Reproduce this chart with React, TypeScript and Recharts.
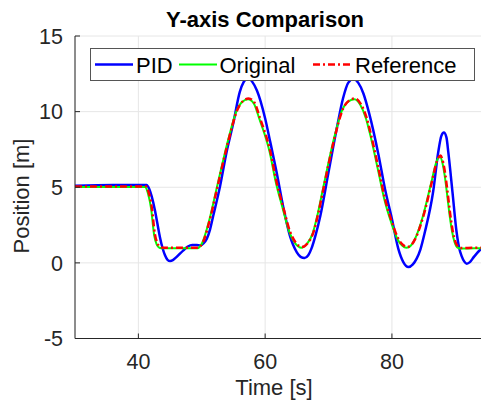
import { LineChart, Line, XAxis, YAxis, CartesianGrid } from "recharts";

// tick values
const X_TICKS = [40, 60, 80];
const Y_TICKS = [-5, 0, 5, 10, 15];

// Reference trajectory
const REF_T = [30, 35, 41.2, 41.6, 42.1, 42.6, 43.0, 43.4, 44.0, 46, 49.4, 50.2, 51.3, 52.3, 53.4, 54.4, 55.5, 56.5, 57.4, 58.3, 59.2, 60.8, 61.8, 62.9, 63.9, 64.9, 65.8, 66.7, 67.6, 68.4, 69.2, 70.8, 72.3, 73.3, 74.2, 75.1, 76.0, 76.8, 77.9, 78.9, 80.0, 81.0, 81.7, 82.4, 83.1, 83.7, 85.0, 86.3, 87.1, 87.65, 88.1, 88.4, 88.8, 89.2, 89.6, 90.0, 90.5, 91.0, 93, 95];
const REF_V = [5.05, 5.05, 5.05, 4.7, 3.7, 1.9, 1.3, 1.05, 1.0, 1.0, 1.0, 1.38, 2.9, 4.7, 6.7, 8.4, 10.0, 10.7, 10.87, 10.6, 9.55, 7.4, 5.35, 3.6, 2.1, 1.3, 1.05, 1.3, 2.0, 3.3, 4.9, 8.0, 10.2, 10.75, 10.87, 10.5, 9.6, 8.3, 6.2, 4.25, 2.7, 1.6, 1.2, 1.05, 1.2, 1.6, 3.15, 5.35, 6.7, 7.1, 6.6, 5.9, 4.6, 3.2, 2.1, 1.4, 1.05, 0.98, 1.0, 1.0];

// Original trajectory (almost on top of the reference)
const ORIG_T = [30, 35, 41.1, 41.5, 42.0, 42.5, 42.9, 43.3, 43.9, 46, 49.3, 50.1, 51.2, 52.2, 53.3, 54.3, 55.4, 56.4, 57.3, 58.2, 59.1, 60.7, 61.7, 62.8, 63.8, 64.8, 65.7, 66.6, 67.5, 68.3, 69.1, 70.7, 72.2, 73.2, 74.1, 75.0, 75.9, 76.7, 77.8, 78.8, 79.9, 80.9, 81.6, 82.3, 83.0, 83.6, 84.9, 86.2, 87.0, 87.55, 88.0, 88.3, 88.7, 89.1, 89.5, 89.9, 90.4, 90.9, 93, 95];
const ORIG_V = [5.02, 5.02, 5.02, 4.6, 3.6, 1.8, 1.2, 1.0, 0.96, 0.96, 0.96, 1.35, 2.85, 4.65, 6.65, 8.35, 9.95, 10.65, 10.82, 10.55, 9.5, 7.35, 5.3, 3.55, 2.05, 1.25, 1.0, 1.25, 1.95, 3.25, 4.85, 7.95, 10.15, 10.7, 10.82, 10.45, 9.55, 8.25, 6.15, 4.2, 2.65, 1.55, 1.15, 1.0, 1.15, 1.55, 3.1, 5.3, 6.65, 7.05, 6.55, 5.85, 4.55, 3.15, 2.05, 1.35, 1.0, 0.95, 0.96, 0.96];

// PID trajectory
const PID_T = [30, 36, 41.3, 41.7, 42.1, 42.6, 43.0, 43.4, 43.8, 44.2, 44.6, 45.0, 45.5, 46.0, 47.1, 47.8, 48.5, 49.2, 49.8, 50.3, 50.8, 51.3, 51.8, 52.9, 53.9, 55.0, 56.0, 56.6, 57.3, 58.0, 58.7, 60.0, 60.8, 61.8, 62.9, 63.9, 65.0, 65.6, 66.2, 66.8, 67.3, 68.0, 68.7, 70.0, 71.3, 72.3, 73.1, 73.9, 74.7, 75.5, 76.4, 77.9, 78.9, 80.0, 81.0, 81.8, 82.6, 83.3, 83.9, 84.5, 85.2, 86.5, 87.3, 87.8, 88.2, 88.6, 88.9, 89.55, 90.2, 90.6, 91.0, 91.4, 91.8, 92.3, 92.9, 94.1, 95];
const PID_V = [5.1, 5.15, 5.15, 4.9, 4.4, 3.5, 2.6, 1.7, 1.0, 0.5, 0.2, 0.12, 0.2, 0.38, 0.83, 1.08, 1.18, 1.18, 1.15, 1.3, 1.6, 2.2, 3.1, 5.1, 7.3, 9.3, 11.3, 11.95, 12.2, 11.95, 11.4, 9.55, 8.0, 6.0, 3.6, 1.8, 0.7, 0.4, 0.32, 0.5, 0.94, 1.9, 3.1, 6.0, 8.9, 10.9, 11.9, 12.15, 11.9, 11.2, 9.9, 7.1, 4.9, 2.9, 0.94, 0.05, -0.28, -0.1, 0.28, 0.9, 2.04, 4.7, 7.3, 8.4, 8.62, 8.3, 7.3, 4.7, 2.04, 1.0, 0.45, 0.1, -0.05, 0.05, 0.38, 0.94, 1.2];

const toPoints = (ts: number[], vs: number[]) => ts.map((t, i) => ({ t, v: vs[i] }));

const FONT = '"Liberation Sans", Arial, Helvetica, sans-serif';
const AXIS_COLOR = "#262626";
const TICK_STYLE = { fontSize: 21.5, fill: AXIS_COLOR, fontFamily: FONT };

export default function App() {
  const pid = toPoints(PID_T, PID_V);
  const orig = toPoints(ORIG_T, ORIG_V);
  const ref = toPoints(REF_T, REF_V);

  return (
    <div style={{ position: "absolute", left: 0, top: 0, width: 481, height: 403, overflow: "hidden", background: "#fff", fontFamily: FONT }}>
      <LineChart width={487} height={403} margin={{ top: 36, right: 0, bottom: 34.5, left: 0 }}>
        <CartesianGrid stroke="#e6e6e6" strokeWidth={1} />
        <XAxis
          dataKey="t"
          type="number"
          domain={[30, 95]}
          ticks={X_TICKS}
          allowDataOverflow
          height={30}
          tick={TICK_STYLE}
          tickSize={-5}
          tickMargin={20}
          stroke={AXIS_COLOR}
          axisLine={{ stroke: AXIS_COLOR }}
          tickLine={{ stroke: AXIS_COLOR }}
        />
        <XAxis
          xAxisId="top"
          orientation="top"
          dataKey="t"
          type="number"
          domain={[30, 95]}
          ticks={X_TICKS}
          allowDataOverflow
          height={0}
          tickFormatter={() => ""}
          tickSize={-5}
          axisLine={{ stroke: AXIS_COLOR }}
          tickLine={{ stroke: AXIS_COLOR }}
        />
        <YAxis
          type="number"
          domain={[-5, 15]}
          ticks={Y_TICKS}
          allowDataOverflow
          width={75}
          tick={TICK_STYLE}
          tickSize={-5}
          tickMargin={17}
          axisLine={{ stroke: AXIS_COLOR }}
          tickLine={{ stroke: AXIS_COLOR }}
        />
        <Line data={pid} dataKey="v" type="monotone" stroke="#0000ff" strokeWidth={2.5} dot={false} isAnimationActive={false} />
        <Line data={orig} dataKey="v" type="monotone" stroke="#00ff00" strokeWidth={2} dot={false} isAnimationActive={false} />
        <Line data={ref} dataKey="v" type="monotone" stroke="#ff0000" strokeWidth={2.5} strokeDasharray="7 3 2 3" dot={false} isAnimationActive={false} />
      </LineChart>

      <svg width={481} height={403} style={{ position: "absolute", left: 0, top: 0, pointerEvents: "none" }}>
        <text x={265} y={27} textAnchor="middle" fontSize={22} fontWeight="bold" fill="#000" fontFamily={FONT}>
          Y-axis Comparison
        </text>
        <text x={274} y={395} textAnchor="middle" fontSize={22} fill={AXIS_COLOR} fontFamily={FONT}>
          Time [s]
        </text>
        <text x={29} y={196} textAnchor="middle" fontSize={22} fill={AXIS_COLOR} fontFamily={FONT} transform="rotate(-90 29 196)">
          Position [m]
        </text>

        {/* legend */}
        <rect x={90.5} y={48.5} width={384} height={32} fill="#fff" stroke="#555" strokeWidth={1} />
        <line x1={95} x2={133} y1={64.5} y2={64.5} stroke="#0000ff" strokeWidth={2.5} />
        <text x={136} y={72.5} fontSize={22} fill="#000" fontFamily={FONT}>PID</text>
        <line x1={179} x2={217} y1={64.5} y2={64.5} stroke="#00ff00" strokeWidth={2} />
        <text x={219.5} y={72.5} fontSize={22} fill="#000" fontFamily={FONT}>Original</text>
        <line x1={313} x2={352} y1={64.5} y2={64.5} stroke="#ff0000" strokeWidth={2.5} strokeDasharray="7 3 2 3" />
        <text x={355} y={72.5} fontSize={22} fill="#000" fontFamily={FONT}>Reference</text>
      </svg>
    </div>
  );
}
